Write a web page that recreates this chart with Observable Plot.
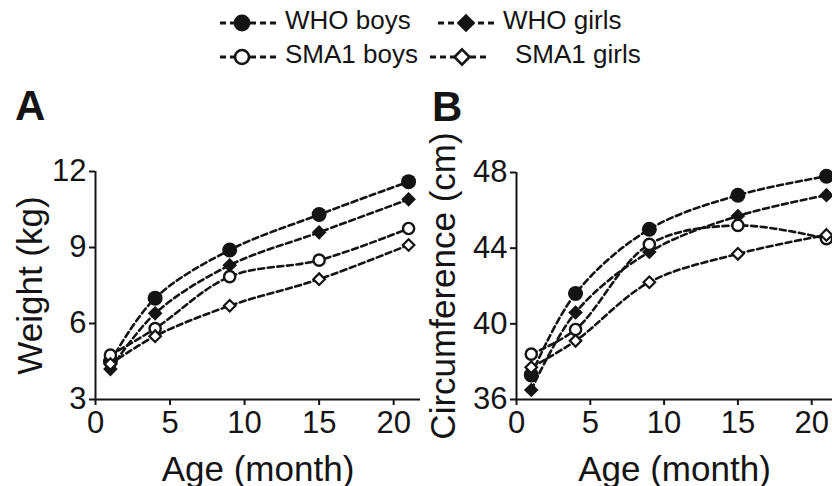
<!DOCTYPE html>
<html><head><meta charset="utf-8">
<script src="https://cdn.jsdelivr.net/npm/d3@7"></script>
<script src="https://cdn.jsdelivr.net/npm/@observablehq/plot@0.6"></script>
<style>
html,body{margin:0;padding:0;background:#fff;}
#root{position:relative;width:832px;height:486px;overflow:hidden;font-family:"Liberation Sans",Arial,sans-serif;color:#111;}
#root > svg{position:absolute;}
</style></head><body><div id="root"></div>
<script>
// ---- data ----
const months = [1, 4, 9, 15, 21];
const seriesNames = ["WHO boys", "WHO girls", "SMA1 boys", "SMA1 girls"];
const weightWhoBoys   = [4.5, 7.0, 8.9, 10.3, 11.6];
const weightWhoGirls  = [4.2, 6.4, 8.3, 9.6, 10.9];
const weightSmaBoys   = [4.75, 5.8, 7.85, 8.5, 9.75];
const weightSmaGirls  = [4.4, 5.5, 6.7, 7.75, 9.1];
const circWhoBoys     = [37.3, 41.6, 45.0, 46.8, 47.8];
const circWhoGirls    = [36.5, 40.6, 43.8, 45.7, 46.8];
const circSmaBoys     = [38.4, 39.7, 44.2, 45.2, 44.5];
const circSmaGirls    = [37.7, 39.1, 42.2, 43.7, 44.7];
const ageTicks = [0, 5, 10, 15, 20];
const weightTicks = [3, 6, 9, 12];
const circTicks = [36, 40, 44, 48];
const xLabel = "Age (month)";
const weightLabel = "Weight (kg)";
const circLabel = "Circumference (cm)";
const panelLetters = ["A", "B"];

const ink = "#141414";
const styles = {
  "WHO boys":   {symbol: "circle",   fill: ink,    r: 7.5, sw: 0},
  "WHO girls":  {symbol: "diamond2", fill: ink,    r: 6.6, sw: 0},
  "SMA1 boys":  {symbol: "circle",   fill: "#fff", r: 5.6, sw: 2.4},
  "SMA1 girls": {symbol: "diamond2", fill: "#fff", r: 5.2, sw: 2.2}
};

function toRows(seriesValues) {
  return seriesNames.flatMap((s, i) => months.map((m, j) => ({series: s, month: m, value: seriesValues[i][j]})));
}
const weightData = toRows([weightWhoBoys, weightWhoGirls, weightSmaBoys, weightSmaGirls]);
const circData = toRows([circWhoBoys, circWhoGirls, circSmaBoys, circSmaGirls]);

function panel(data, yDomain, yTicks, yLabel, width, xRange, marginTop, yLabelOffset) {
  const dots = seriesNames.map(s => {
    const st = styles[s];
    return Plot.dot(data.filter(d => d.series === s), {
      x: "month", y: "value", symbol: st.symbol, r: st.r, fill: st.fill,
      stroke: ink, strokeWidth: st.sw
    });
  });
  const svg = Plot.plot({
    width, height: 406,
    marginLeft: 95, marginRight: 0, marginTop, marginBottom: 87,
    style: {fontFamily: '"Liberation Sans", Arial, sans-serif', fontSize: "31px", color: ink, background: "transparent", overflow: "hidden"},
    x: {domain: [0, 22], range: xRange},
    y: {domain: yDomain},
    marks: [
      Plot.axisX({ticks: ageTicks, tickSize: 6, tickPadding: 5, strokeWidth: 2, label: xLabel, labelAnchor: "center", labelArrow: "none", labelOffset: 81}),
      Plot.axisY({ticks: yTicks, tickSize: 6, tickPadding: 3, strokeWidth: 2, label: yLabel, labelAnchor: "center", labelArrow: "none", labelOffset: yLabelOffset}),
      Plot.line(data, {x: "month", y: "value", z: "series", curve: "catmull-rom", stroke: ink, strokeWidth: 2.6, strokeDasharray: "6,3.6"}),
      ...dots,
      Plot.ruleY([yDomain[0]], {stroke: ink, strokeWidth: 2}),
      Plot.ruleX([0], {stroke: ink, strokeWidth: 2})
    ]
  });
  svg.querySelectorAll('[aria-label="x-axis label"], [aria-label="y-axis label"]').forEach(g => {
    g.style.fontSize = "35px";
    g.querySelectorAll("text").forEach(t => {
      t.style.fontSize = "35px";
      t.textContent = t.textContent.replace(/[\u2190-\u2193]/g, "").trim();
    });
  });
  return svg;
}

const root = document.getElementById("root");
const pA = panel(weightData, [3, 12], weightTicks, weightLabel, 420, [95, 423], 91, 78);
pA.style.left = "0px"; pA.style.top = "80px";
root.appendChild(pA);
const pB = panel(circData, [36, 48], circTicks, circLabel, 411, [95, 95 + 22 * 14.76], 92, 86);
pB.style.left = "421px"; pB.style.top = "80px";
root.appendChild(pB);

// ---- legend and panel letters (overlay) ----
const ov = d3.select(root).append("svg")
  .attr("width", 832).attr("height", 486)
  .style("left", "0px").style("top", "0px").style("pointer-events", "none")
  .style("font-family", '"Liberation Sans", Arial, sans-serif');

const legendItems = [
  {name: "WHO boys",   x0: 220, x1: 278, mx: 242, y: 23, tx: 285, ty: 29, lr: 8.4},
  {name: "WHO girls",  x0: 438, x1: 498, mx: 466, y: 23, tx: 503, ty: 29, lr: 8.4},
  {name: "SMA1 boys",  x0: 220, x1: 278, mx: 242, y: 57, tx: 285, ty: 63, lr: 7},
  {name: "SMA1 girls", x0: 430, x1: 490, mx: 462, y: 57, tx: 515, ty: 63, lr: 6.8}
];
legendItems.forEach(it => {
  const st = styles[it.name];
  ov.append("line").attr("x1", it.x0).attr("x2", it.x1).attr("y1", it.y).attr("y2", it.y)
    .attr("stroke", ink).attr("stroke-width", 2.8).attr("stroke-dasharray", "6,4");
  const sym = st.symbol === "circle" ? d3.symbolCircle : d3.symbolDiamond2;
  ov.append("path").attr("transform", `translate(${it.mx},${it.y})`)
    .attr("d", d3.symbol(sym, Math.PI * it.lr * it.lr)())
    .attr("fill", st.fill).attr("stroke", ink).attr("stroke-width", st.sw ? 2.6 : 0);
  ov.append("text").attr("x", it.tx).attr("y", it.ty).attr("font-size", 26).attr("fill", ink).text(it.name);
});
ov.append("text").attr("x", 15).attr("y", 120).attr("font-size", 42).attr("font-weight", "bold").attr("fill", ink).text(panelLetters[0]);
ov.append("text").attr("x", 432).attr("y", 121).attr("font-size", 42).attr("font-weight", "bold").attr("fill", ink).text(panelLetters[1]);
</script></body></html>
